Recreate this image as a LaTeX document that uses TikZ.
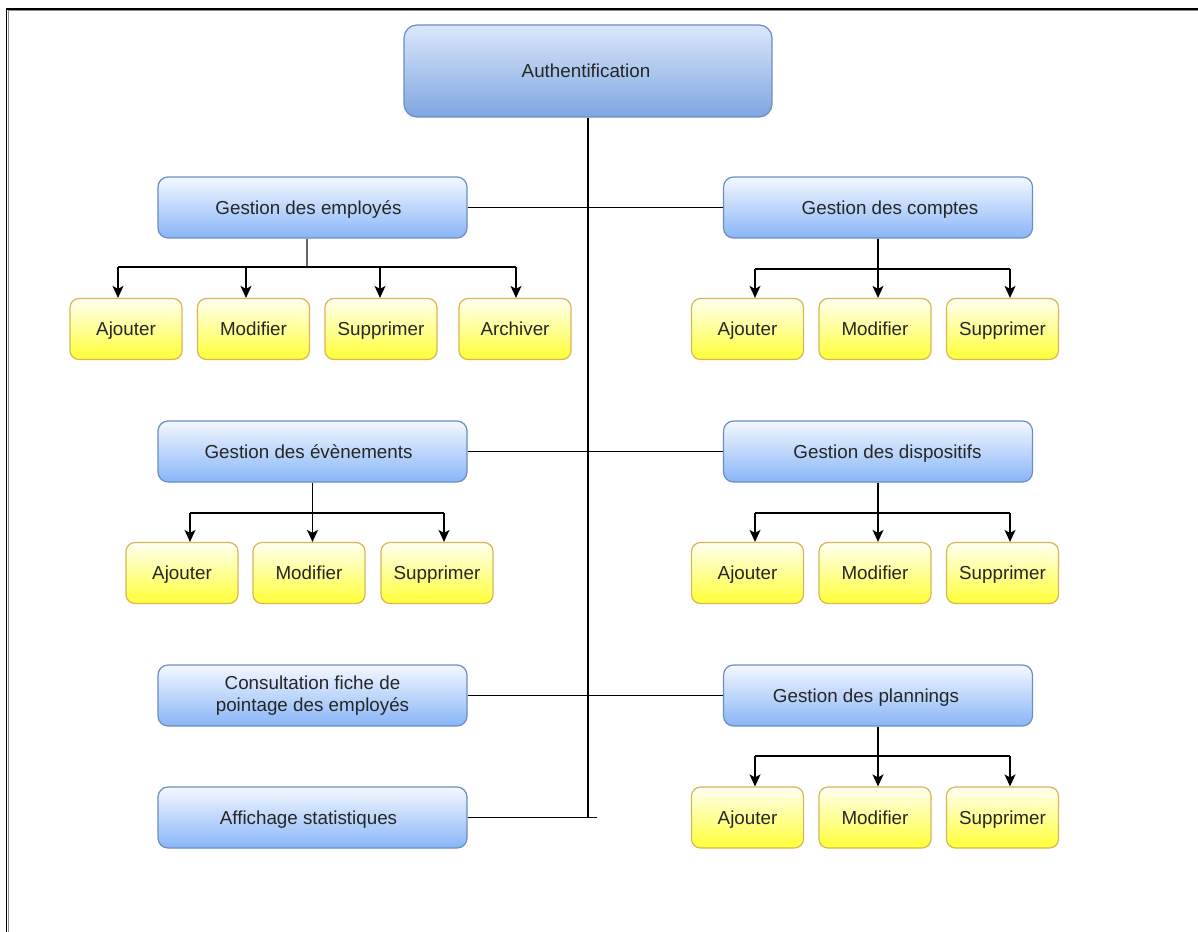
\documentclass[tikz,border=0pt]{standalone}
\usepackage{fontspec}
\setmainfont{Liberation Sans}
\usetikzlibrary{arrows.meta}

\definecolor{authtop}{HTML}{DAE8FC}
\definecolor{authbot}{HTML}{7EA6E0}
\definecolor{blueline}{HTML}{6C8EBF}
\definecolor{gtop}{HTML}{F4F8FF}
\definecolor{gbot}{HTML}{88B5F8}
\definecolor{ytop}{HTML}{FFFFF2}
\definecolor{ybot}{HTML}{FFFF36}
\definecolor{yline}{HTML}{D6B656}
\definecolor{txt}{HTML}{262626}

\begin{document}
\begin{tikzpicture}[x=1pt,y=-1pt,
  every node/.style={font=\fontsize{18.8}{22.5}\selectfont, text=txt, align=center, inner sep=0pt},
  oneline/.style={text height=13.5pt, text depth=0pt},
  authbox/.style={oneline, rounded corners=13pt, draw=blueline, line width=1.2pt,
    top color=authtop, bottom color=authbot, minimum width=368pt, minimum height=92pt},
  gboxbase/.style={rounded corners=10pt, draw=blueline, line width=1.2pt,
    top color=gtop, bottom color=gbot, minimum width=309pt, minimum height=61pt},
  gbox/.style={gboxbase, oneline},
  ybox/.style={oneline, rounded corners=9pt, draw=yline, line width=1.2pt,
    top color=ytop, bottom color=ybot, minimum width=112pt, minimum height=61pt},
  link/.style={draw=black, line width=1.5pt},
  arr/.style={link, -{Stealth[length=12pt,width=11pt,inset=3pt]}},
  graystem/.style={draw=black!60, line width=2pt}
]
\clip (0,0) rectangle (1198,931);
\fill[white] (0,0) rectangle (1198,931);

% outer frame (top and left edges)
\draw[black!45, line width=1pt] (8.5,940) -- (8.5,10.5) -- (1210,10.5);
\draw[black, line width=1.8pt] (6.5,940) -- (6.5,9) -- (1210,9);

% main modules
\node[authbox] (auth) at (588,71) {Authentification\kern4pt};
\node[gbox] (emp)  at (312.5,207.5) {Gestion des employés\kern8pt};
\node[gbox] (cpt)  at (878,207.5)   {\kern24pt Gestion des comptes};
\node[gbox] (evt)  at (312.5,451.5) {Gestion des évènements\kern8pt};
\node[gbox] (dsp)  at (878,451.5)   {\kern19pt Gestion des dispositifs};
\node[gboxbase] (cons) at (312.5,695.5) {Consultation fiche de\\pointage des employés};
\node[gbox] (pln)  at (878,695.5)   {Gestion des plannings\kern24pt};
\node[gbox] (aff)  at (312.5,817.5) {Affichage statistiques\kern8pt};

% actions: employés
\node[ybox] (a1)  at (126,329)   {Ajouter};
\node[ybox] (m1)  at (253.5,329) {Modifier};
\node[ybox] (s1)  at (381,329)   {Supprimer};
\node[ybox] (ar1) at (515,329)   {Archiver};
% actions: comptes
\node[ybox] (a2) at (747.5,329)  {Ajouter};
\node[ybox] (m2) at (875,329)    {Modifier};
\node[ybox] (s2) at (1002.5,329) {Supprimer};
% actions: évènements
\node[ybox] (a3) at (182,573) {Ajouter};
\node[ybox] (m3) at (309,573) {Modifier};
\node[ybox] (s3) at (437,573) {Supprimer};
% actions: dispositifs
\node[ybox] (a4) at (747.5,573)  {Ajouter};
\node[ybox] (m4) at (875,573)    {Modifier};
\node[ybox] (s4) at (1002.5,573) {Supprimer};
% actions: plannings
\node[ybox] (a5) at (747.5,817.5)  {Ajouter};
\node[ybox] (m5) at (875,817.5)    {Modifier};
\node[ybox] (s5) at (1002.5,817.5) {Supprimer};

% trunk from the authentication box
\draw[link] (auth.south) -- (auth.south |- aff.east);
\draw[link] (aff.east) -- ++(129,0) coordinate (trunkend);
\draw[link] (emp.east) -- (cpt.west);
\draw[link] (evt.east) -- (dsp.west);
\draw[link] (cons.east) -- (pln.west);

% employés -> actions
\coordinate (r1) at (0,267);
\coordinate (e1) at ([xshift=-5.5]emp.south);
\coordinate (t11) at ([xshift=-8]a1.north);
\coordinate (t12) at ([xshift=-7.5]m1.north);
\coordinate (t13) at ([xshift=-1]s1.north);
\coordinate (t14) at ([xshift=1]ar1.north);
\draw[graystem] (e1) -- (e1 |- r1);
\draw[link] (t11 |- r1) -- (t14 |- r1);
\draw[arr] (t11 |- r1) -- (t11);
\draw[arr] (t12 |- r1) -- (t12);
\draw[arr] (t13 |- r1) -- (t13);
\draw[arr] (t14 |- r1) -- (t14);

% comptes -> actions
\coordinate (r2) at (0,269);
\coordinate (t21) at ([xshift=7.5]a2.north);
\coordinate (t23) at ([xshift=7.5]s2.north);
\draw[arr] (cpt.south) -- (cpt.south |- m2.north);
\draw[link] (t21 |- r2) -- (t23 |- r2);
\draw[arr] (t21 |- r2) -- (t21);
\draw[arr] (t23 |- r2) -- (t23);

% évènements -> actions
\coordinate (r3) at (0,513);
\coordinate (t31) at ([xshift=8]a3.north);
\coordinate (t33) at ([xshift=7]s3.north);
\draw[arr] (evt.south) -- (evt.south |- m3.north);
\draw[link] (t31 |- r3) -- (t33 |- r3);
\draw[arr] (t31 |- r3) -- (t31);
\draw[arr] (t33 |- r3) -- (t33);

% dispositifs -> actions
\coordinate (r4) at (0,513);
\coordinate (t41) at ([xshift=7.5]a4.north);
\coordinate (t43) at ([xshift=7.5]s4.north);
\draw[arr] (dsp.south) -- (dsp.south |- m4.north);
\draw[link] (t41 |- r4) -- (t43 |- r4);
\draw[arr] (t41 |- r4) -- (t41);
\draw[arr] (t43 |- r4) -- (t43);

% plannings -> actions
\coordinate (r5) at (0,756);
\coordinate (t51) at ([xshift=7.5]a5.north);
\coordinate (t53) at ([xshift=7.5]s5.north);
\draw[arr] (pln.south) -- (pln.south |- m5.north);
\draw[link] (t51 |- r5) -- (t53 |- r5);
\draw[arr] (t51 |- r5) -- (t51);
\draw[arr] (t53 |- r5) -- (t53);
\end{tikzpicture}
\end{document}
